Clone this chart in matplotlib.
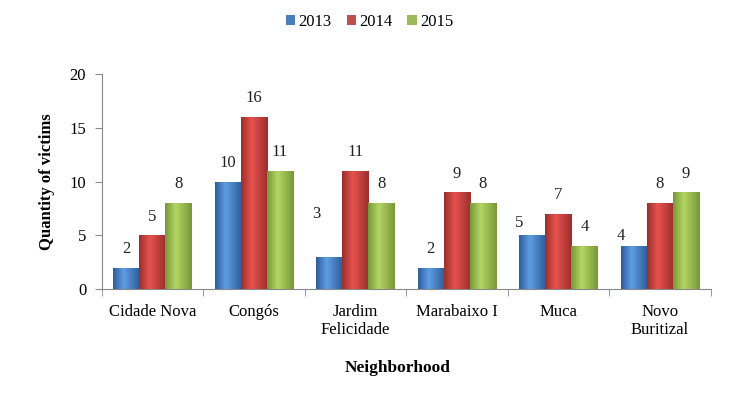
import numpy as np
import matplotlib
matplotlib.use("Agg")
import matplotlib.pyplot as plt
from matplotlib.colors import LinearSegmentedColormap

categories = ["Cidade Nova", "Congós", "Jardim\nFelicidade", "Marabaixo I", "Muca", "Novo\nBuritizal"]
years = ["2013", "2014", "2015"]
v2013 = [2, 10, 3, 2, 5, 4]
v2014 = [5, 16, 11, 9, 7, 8]
v2015 = [8, 11, 8, 8, 4, 9]

# colours for legend and gradient (edge, highlight)
colors = ["#4a7ebb", "#c0504d", "#9bbb59"]
grads = [("#2e5c99", "#5d9de2"), ("#9a2f2c", "#e6524e"), ("#789838", "#b2d563")]

# some 2013 labels sit to the left of their bar in the original
lab_dx = {(0, 2): -0.13, (0, 4): -0.13, (0, 5): -0.13}
lab_dy = {(0, 2): 2.2, (0, 4): -0.6, (0, 5): -0.8}

plt.rcParams['font.family'] = ['Liberation Serif', 'DejaVu Serif']

fig = plt.figure(figsize=(7.41, 3.95), dpi=100)
ax = fig.add_axes([0.137, 0.268, 0.822, 0.545])

x = np.arange(len(categories))
w = 0.257
grad = np.concatenate([np.linspace(0, 1, 40), np.linspace(1, 0, 60)]).reshape(1, -1)
for i, (vals, lab) in enumerate(zip([v2013, v2014, v2015], years)):
    pos = x + (i - 1) * w
    bars = ax.bar(pos, vals, w, color=colors[i], linewidth=0, label=lab, zorder=2)
    cmap = LinearSegmentedColormap.from_list("g%d" % i, grads[i])
    for b in bars:
        bx, by = b.get_x(), b.get_y()
        im = ax.imshow(grad, cmap=cmap, aspect="auto", zorder=3,
                       extent=[bx, bx + b.get_width(), by, by + b.get_height()])
        im.set_clip_path(b)
    for j, (p, v) in enumerate(zip(pos, vals)):
        dx = lab_dx.get((i, j), 0)
        dy = lab_dy.get((i, j), 0)
        ax.text(p + dx, v + 1.0 + dy, str(v), ha="center", va="bottom", fontsize=12, color="#222222")

ax.set_xlim(-0.5, len(categories) - 0.5)
ax.set_ylim(0, 20)
ax.set_yticks([0, 5, 10, 15, 20])
ax.set_xticks(x)
ax.set_xticklabels(categories, fontsize=12, linespacing=1.15)
ax.set_xticks(np.arange(-0.5, len(categories)), minor=True)
ax.tick_params(axis="x", which="major", length=0, pad=11)
ax.tick_params(axis="x", which="minor", length=5, color="#888888", direction="out")
ax.tick_params(axis="y", length=5, color="#888888", labelsize=12, pad=6)

for s in ["top", "right"]:
    ax.spines[s].set_visible(False)
for s in ["left", "bottom"]:
    ax.spines[s].set_color("#888888")

ax.set_ylabel("Quantity of victims", fontsize=12, fontweight="bold")
ax.yaxis.set_label_coords(-0.077, 0.5)
ax.set_xlabel("Neighborhood", fontsize=12.5, fontweight="bold")
ax.xaxis.set_label_coords(0.487, -0.33)

ax.legend(loc="center", bbox_to_anchor=(0.44, 1.24), ncol=3, frameon=False,
          fontsize=12, handlelength=0.55, handleheight=0.55, handletextpad=0.2, columnspacing=0.9)

fig.savefig("out.png", dpi=100)
